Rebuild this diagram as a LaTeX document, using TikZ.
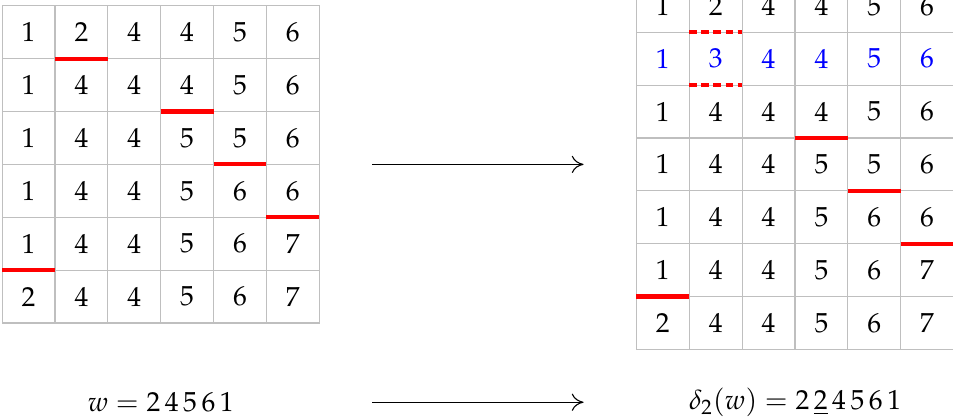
\documentclass[tikz,border=0pt]{standalone}
\usepackage[T1]{fontenc}
\usepackage{mathpazo}
\usetikzlibrary{arrows.meta}

\begin{document}
\begin{tikzpicture}[
				x=6.75mm, y=6.75mm,
				cell/.style={minimum size=6.75mm, inner sep=0pt, outer sep=0pt},
				gridline/.style={draw=black!25, line width=0.4pt},
				bump/.style={red, line width=1.5pt},
				dashbump/.style={bump, dash pattern=on 2.8pt off 1.6pt},
				arrow/.style={line width=0.4pt, -{To[length=1.5mm, width=2.2mm]}},
			]
				\useasboundingbox (-0.04,0.11) rectangle (17.99,-7.82);

				% tableau before
				\foreach \row [count=\r] in {{1,2,4,4,5,6},{1,4,4,4,5,6},{1,4,4,5,5,6},{1,4,4,5,6,6},{1,4,4,5,6,7},{2,4,4,5,6,7}}
					\foreach \v [count=\c] in \row
						\node[cell] (L-\r-\c) at (\c-0.5, -\r+0.5) {\v};
				\draw[gridline] (L-1-1.north west) rectangle (L-6-6.south east);
				\foreach \i in {2,...,6} {
					\draw[gridline] (L-\i-1.north west) -- (L-\i-6.north east);
					\draw[gridline] (L-1-\i.north west) -- (L-6-\i.south west);
				}

				% tableau after
				\foreach \row/\col [count=\r] in {{1,2,4,4,5,6}/black,{1,3,4,4,5,6}/blue,{1,4,4,4,5,6}/black,{1,4,4,5,5,6}/black,{1,4,4,5,6,6}/black,{1,4,4,5,6,7}/black,{2,4,4,5,6,7}/black}
					\foreach \v [count=\c] in \row
						\node[cell, text=\col] (R-\r-\c) at (11.5+\c, -\r+1) {\v};
				\draw[gridline] (R-1-1.north west) rectangle (R-7-6.south east);
				\foreach \i in {2,...,7}
					\draw[gridline] (R-\i-1.north west) -- (R-\i-6.north east);
				\foreach \i in {2,...,6}
					\draw[gridline] (R-1-\i.north west) -- (R-7-\i.south west);

				\foreach \r/\c in {1/2,2/4,3/5,4/6,5/1}
					\draw[bump] (L-\r-\c.south west) -- (L-\r-\c.south east);
				\foreach \r/\c in {3/4,4/5,5/6,6/1}
					\draw[bump] (R-\r-\c.south west) -- (R-\r-\c.south east);
				\draw[dashbump] (R-2-2.north west) -- (R-2-2.north east);
				\draw[dashbump] (R-2-2.south west) -- (R-2-2.south east);

				\coordinate (top-from) at (7,-3);
				\coordinate (top-to) at (11,-3);
				\coordinate (bot-from) at (7,-7.5);
				\coordinate (bot-to) at (11,-7.5);
				\draw[arrow] (top-from) -- (top-to);
				\draw[arrow] (bot-from) -- (bot-to);

				\node (word) at (3,-7.5) {$w = 2\,4\,5\,6\,1$};
				\node (delta) at (15,-7.5) {$\delta_2(w) = 2\,\underline{2}\,4\,5\,6\,1$};
			\end{tikzpicture}
\end{document}
